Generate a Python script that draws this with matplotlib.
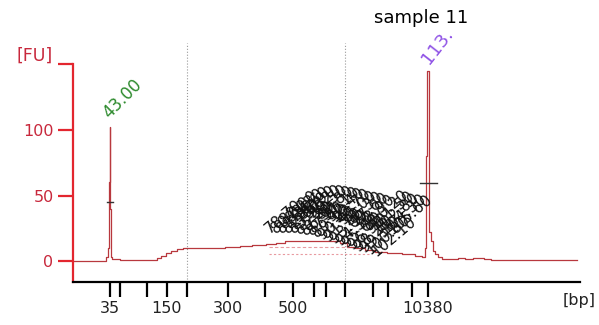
import numpy as np
import matplotlib
matplotlib.use('Agg')
import matplotlib.pyplot as plt

# electropherogram trace: migration time (s) vs fluorescence (FU)
t_trace = [34.9, 41.9, 42.3, 42.67, 42.9, 43.0, 43.18, 43.33, 43.44, 44.98, 45.4,
           52.9, 53.6, 54.7, 55.8, 56.9, 58.4, 59.7, 62.8, 66.0, 70.5, 72.7, 76.0,
           78.7, 80.4, 82.5, 84.8, 87.0, 89.2, 92.5, 94.7, 95.8, 98.0, 100.2, 102.4,
           105.7, 109.0, 111.2, 112.1, 112.5, 112.7, 112.9, 113.1, 113.2, 113.4,
           113.9, 114.3, 114.8, 115.6, 116.7, 118.9, 120.5, 122.0, 124.0, 126.6,
           127.0, 145.8]
fu_trace = [0.0, 0.0, 3.0, 10.0, 60.0, 102.0, 40.0, 3.0, 1.5, 1.5, 0.5,
            0.5, 2.0, 4.0, 6.0, 7.5, 9.0, 10.0, 10.0, 10.0, 10.5, 11.5, 12.0,
            13.0, 14.0, 15.0, 15.0, 15.5, 15.0, 15.5, 14.0, 11.0, 10.0, 8.5, 7.0,
            6.0, 5.0, 4.0, 3.0, 10.0, 80.0, 145.0, 145.0, 60.0, 22.0,
            15.0, 8.0, 5.0, 3.0, 1.5, 1.5, 2.0, 1.5, 2.0, 1.5,
            1.0, 1.0]

# ladder: size (bp) and migration time (s)
ladder_bp = [35, 50, 100, 150, 200, 300, 400, 500, 600, 700, 1000, 2000, 3000, 7000, 10380]
ladder_t = [43.0, 45.2, 51.1, 55.5, 59.9, 68.9, 77.2, 83.2, 87.8, 90.6, 94.7, 100.8, 104.1, 109.4, 113.0]
shown_bp = [35, 150, 300, 500, 10380]

# peak time labels in the smear region (time, label height FU)
peak_t = [78.7, 80.0, 81.3, 82.6, 83.9, 85.2, 86.5, 87.8, 89.1, 90.4, 91.7, 93.0,
          94.3, 95.6, 96.9, 98.2, 99.5, 100.8, 102.1]
peak_y = [19.0, 19.0, 19.0, 19.0, 18.5, 18.0, 17.5, 17.0, 16.0, 14.5, 13.0, 11.5,
          10.0, 8.5, 7.0, 5.5, 4.0, 2.5, 1.5]
peak2_t = [82.0, 83.3, 84.6, 85.9, 87.2, 88.5, 89.8, 91.1, 92.4, 93.7, 95.0, 96.3,
           97.6, 98.9, 100.2, 101.5, 102.8, 104.3, 105.6]
peak2_y = [26.0, 27.5, 28.5, 29.5, 30.0, 30.0, 29.5, 29.0, 28.0, 27.0, 26.0, 25.0,
           24.0, 23.0, 22.0, 21.0, 20.0, 19.0, 18.0]

marker_t = [43.0, 113.0]
marker_txt = ['43.00', '113.']
marker_col = ['#2e8b2e', '#8f52e6']

red = '#e3262f'
trace_col = '#b8383e'

fig = plt.figure(figsize=(5.99, 3.25), dpi=100)
ax = fig.add_axes([73/599, 1-282/325, (580-73)/599, (282-43)/325])

ax.plot(t_trace, fu_trace, color=trace_col, lw=0.9, drawstyle='steps-mid')

# pink region fragments below the smear
ax.plot([78.0, 100.5], [5.0, 5.0], color='#e89aa0', lw=0.8, ls=(0, (2, 2)))
ax.plot([78.0, 95.5], [10.5, 10.5], color='#e89aa0', lw=0.8, ls=(0, (3, 2)))

# half-height ticks on markers
ax.plot([42.3, 43.7], [45, 45], color='#333333', lw=1)
ax.plot([111.2, 114.9], [59.5, 59.5], color='#333333', lw=1)

for xv in [ladder_t[4], ladder_t[10]]:
    ax.axvline(xv, color='#999999', lw=0.8, ls=':', zorder=0)

for t, y in zip(peak_t, peak_y):
    ax.text(t, y, f'{t:.2f}', rotation=40, rotation_mode='anchor', ha='left',
            va='bottom', fontsize=11, color='#111111')
for t, y in zip(peak2_t, peak2_y):
    ax.text(t, y, f'{t:.2f}', rotation=40, rotation_mode='anchor', ha='left',
            va='bottom', fontsize=11, color='#111111')

ax.text(43.44, 106, marker_txt[0], rotation=45, rotation_mode='anchor', ha='left',
        va='bottom', fontsize=12, color=marker_col[0], clip_on=False)
ax.text(114.0, 148, marker_txt[1], rotation=52, rotation_mode='anchor', ha='left',
        va='bottom', fontsize=13, color=marker_col[1], clip_on=False)

ax.set_xlim(34.86, 146.46)
ax.set_ylim(-16.0, 166.4)

for s in ['top', 'right']:
    ax.spines[s].set_visible(False)
ax.spines['left'].set_color(red)
ax.spines['left'].set_linewidth(1.6)
ax.spines['left'].set_bounds(-16, 150)
ax.spines['bottom'].set_color('black')
ax.spines['bottom'].set_linewidth(1.6)

ax.set_yticks([0, 50, 100, 150])
ax.set_yticklabels(['0', '50', '100', ''])
ax.tick_params(axis='y', colors=red, labelcolor='#c8283c', length=11, width=1.6,
               labelsize=11.5, pad=3)
ax.text(-0.04, 150, '[FU]', transform=ax.get_yaxis_transform(), ha='right',
        va='bottom', fontsize=12.5, color='#c8283c')

ax.set_xticks(ladder_t)
ax.set_xticklabels([str(b) if b in shown_bp else '' for b in ladder_bp])
ax.tick_params(axis='x', colors='black', length=11, width=1.6, labelsize=11.5,
               pad=3, labelcolor='#222222')
fig.text(596/599, 1-301/325, '[bp]', ha='right', va='center', fontsize=11.5,
         color='#222222')

fig.text(421/599, 1-18/325, 'sample 11', ha='center', va='center', fontsize=13,
         color='black')

fig.savefig('out.png', dpi=100)
